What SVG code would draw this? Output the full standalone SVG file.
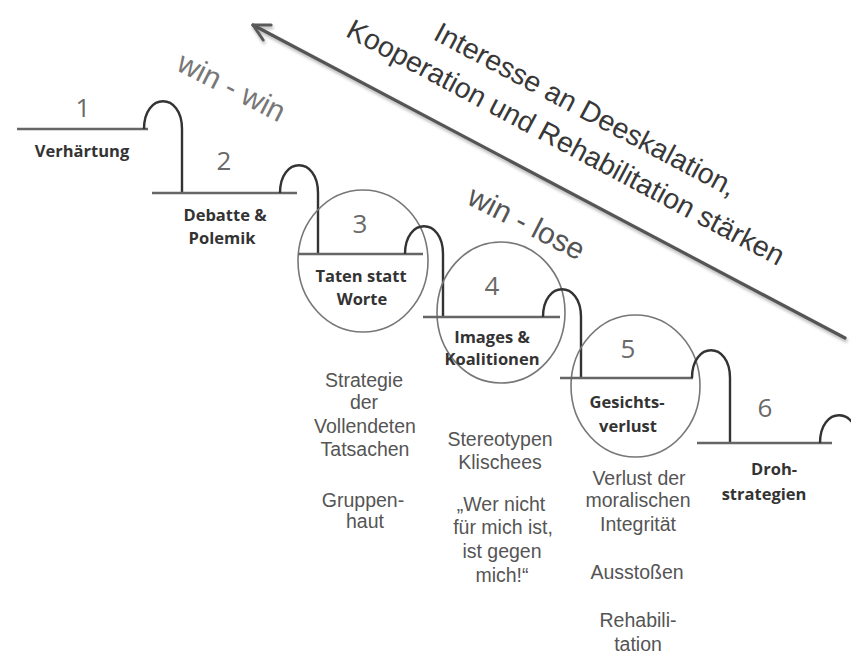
<svg xmlns="http://www.w3.org/2000/svg" width="851" height="657" viewBox="0 0 851 657">
<style>
.step{stroke:#666;stroke-width:2.6;fill:none}
.bump{stroke:#333;stroke-width:2.4;fill:none}
.ring{stroke:#777;stroke-width:1.6;fill:none}
.num{font-family:"Open Sans","Liberation Sans",sans-serif;font-size:26px;fill:#6a6a6a;text-anchor:middle}
.lbl{font-family:"Open Sans","Liberation Sans",sans-serif;font-weight:bold;font-size:16.5px;fill:#333;text-anchor:middle}
.desc{font-family:"Liberation Sans",Arial,sans-serif;font-size:19.5px;fill:#555;text-anchor:middle}
.win{font-family:"Liberation Sans",Arial,sans-serif;font-size:30px;text-anchor:middle}
.big{font-family:"Liberation Sans",Arial,sans-serif;font-size:28.5px;fill:#383838;text-anchor:middle}
</style>
<defs>
<marker id="head" markerUnits="userSpaceOnUse" markerWidth="40" markerHeight="40" refX="0" refY="0" viewBox="-20 -20 40 40" orient="auto">
<path d="M -16,-8.5 L 0,0 L -16,8.5" fill="none" stroke="#5a5a5a" stroke-width="3" stroke-linecap="round" stroke-linejoin="round"/>
</marker>
<filter id="shadow" x="-10%" y="-10%" width="120%" height="130%">
<feDropShadow dx="1" dy="2.5" stdDeviation="1.6" flood-color="#000" flood-opacity="0.3"/>
</filter>
</defs>
<rect width="851" height="657" fill="#fff"/>

<g id="connectors">
<line x1="845" y1="338" x2="253" y2="25" stroke="#555" stroke-width="3.2" stroke-linecap="round" marker-end="url(#head)" filter="url(#shadow)"/>
</g>

<g id="arrow-label" transform="translate(581,118) rotate(28)">
<text class="big" x="0" y="0">Interesse an Deeskalation,</text>
<text class="big" x="-2" y="38.4">Kooperation und Rehabilitation stärken</text>
</g>

<g id="win-win">
<text class="win" fill="#777" transform="translate(227,96) rotate(27)">win - win</text>
</g>
<g id="win-lose">
<text class="win" fill="#555" transform="translate(522,232) rotate(27)">win - lose</text>
</g>

<g id="step1">
<line class="step" x1="17" y1="129" x2="148" y2="129"/>
<path class="bump" d="M144,129 C144,92 182,92 182,129 L182,193"/>
<text class="num" x="83" y="117">1</text>
<text class="lbl" x="82" y="157">Verhärtung</text>
</g>

<g id="step2">
<line class="step" x1="152" y1="193" x2="297" y2="193"/>
<path class="bump" d="M280,193 C280,156 318,156 318,193 L318,254"/>
<text class="num" x="224" y="170">2</text>
<text class="lbl" x="225" y="221">Debatte &amp;</text>
<text class="lbl" x="222" y="244">Polemik</text>
</g>

<g id="step3">
<ellipse class="ring" cx="363" cy="261" rx="65" ry="71"/>
<line class="step" x1="298" y1="254" x2="423" y2="254"/>
<path class="bump" d="M405,254 C405,217 443,217 443,254 L443,317"/>
<text class="num" x="360" y="233">3</text>
<text class="lbl" x="361" y="282">Taten statt</text>
<text class="lbl" x="362" y="305">Worte</text>
<text class="desc" x="364" y="387">Strategie</text>
<text class="desc" x="364" y="409">der</text>
<text class="desc" x="365" y="433">Vollendeten</text>
<text class="desc" x="365" y="456">Tatsachen</text>
<text class="desc" x="363" y="507">Gruppen-</text>
<text class="desc" x="365" y="528">haut</text>
</g>

<g id="step4">
<ellipse class="ring" cx="501" cy="312.5" rx="64" ry="70.5"/>
<line class="step" x1="423" y1="317" x2="560" y2="317"/>
<path class="bump" d="M543,317 C543,280 581,280 581,317 L581,378"/>
<text class="num" x="492" y="295">4</text>
<text class="lbl" x="492" y="343">Images &amp;</text>
<text class="lbl" x="492" y="365">Koalitionen</text>
<text class="desc" x="500" y="446">Stereotypen</text>
<text class="desc" x="500" y="469">Klischees</text>
<text class="desc" x="501" y="511">„Wer nicht</text>
<text class="desc" x="503" y="534">für mich ist,</text>
<text class="desc" x="502" y="558">ist gegen</text>
<text class="desc" x="502" y="582">mich!“</text>
</g>

<g id="step5">
<ellipse class="ring" cx="635.5" cy="386" rx="64.5" ry="71"/>
<line class="step" x1="560" y1="378" x2="693" y2="378"/>
<path class="bump" d="M692,378 C692,341 730,341 730,378 L730,443"/>
<text class="num" x="628" y="358">5</text>
<text class="lbl" x="627" y="408">Gesichts-</text>
<text class="lbl" x="628" y="432">verlust</text>
<text class="desc" x="639" y="485">Verlust der</text>
<text class="desc" x="638" y="507">moralischen</text>
<text class="desc" x="638" y="531">Integrität</text>
<text class="desc" x="637" y="579">Ausstoßen</text>
<text class="desc" x="638" y="627">Rehabili-</text>
<text class="desc" x="638" y="651">tation</text>
</g>

<g id="step6">
<line class="step" x1="697" y1="443" x2="832" y2="443"/>
<path class="bump" d="M820,443 C820,406 858,406 858,443 L858,500"/>
<text class="num" x="765" y="417">6</text>
<text class="lbl" x="774" y="475">Droh-</text>
<text class="lbl" x="764" y="500">strategien</text>
</g>
</svg>
